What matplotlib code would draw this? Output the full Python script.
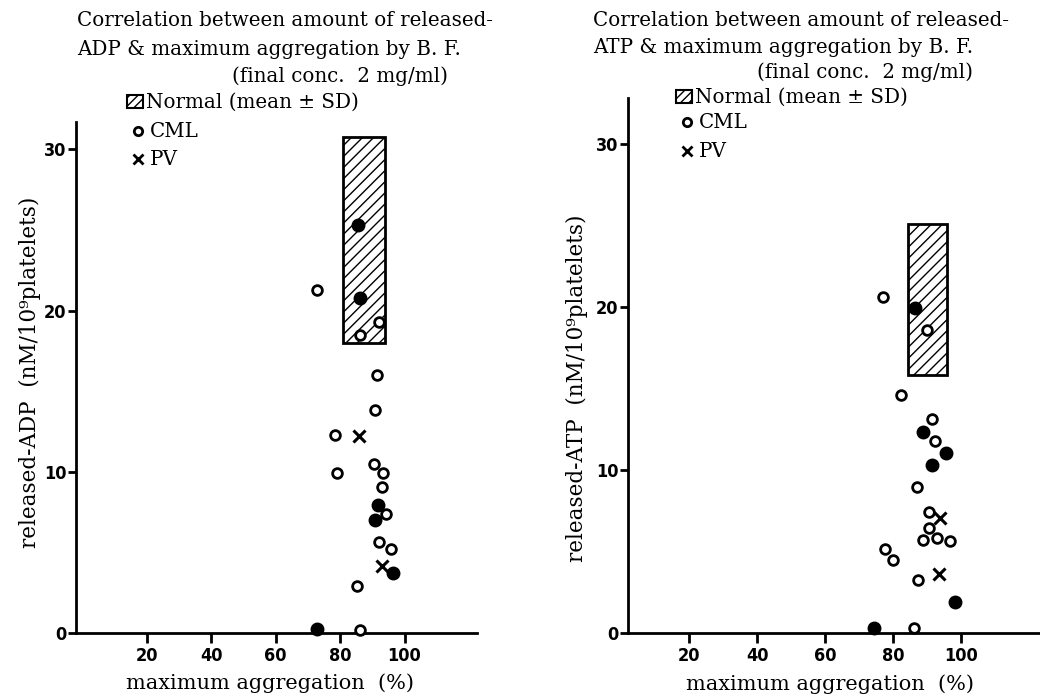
import matplotlib
matplotlib.use("Agg")
import matplotlib.pyplot as plt
from matplotlib.patches import Rectangle

# -----------------------------
# Data
# -----------------------------
# left panel: released-ADP vs maximum aggregation
adp_cml_x = [72.8, 92.1, 86.2, 91.6, 90.8, 78.5, 90.6, 79.1, 93.4, 93.1, 94.3, 92.1, 95.7, 85.1, 86.2]
adp_cml_y = [21.3, 19.3, 18.5, 16.0, 13.85, 12.3, 10.5, 9.95, 9.95, 9.05, 7.37, 5.67, 5.2, 2.92, 0.19]
adp_fill_x = [85.5, 86.2, 91.9, 90.9, 96.5, 72.7]
adp_fill_y = [25.3, 20.8, 7.95, 6.98, 3.7, 0.25]
adp_pv_x = [85.9, 92.9]
adp_pv_y = [12.2, 4.18]
adp_normal = (87.45, 6.55, 24.4, 6.4)   # x mean, x SD, y mean, y SD

# right panel: released-ATP vs maximum aggregation
atp_cml_x = [77.0, 90.0, 82.3, 91.4, 92.4, 87.2, 90.7, 90.5, 88.8, 92.9, 96.8, 77.8, 80.1, 87.4, 86.3]
atp_cml_y = [20.6, 18.6, 14.6, 13.1, 11.8, 8.98, 7.44, 6.46, 5.69, 5.81, 5.64, 5.15, 4.48, 3.25, 0.33]
atp_fill_x = [86.5, 89.0, 95.6, 91.4, 98.4, 74.3]
atp_fill_y = [19.9, 12.3, 11.06, 10.3, 1.9, 0.33]
atp_pv_x = [93.9, 93.5]
atp_pv_y = [7.04, 3.62]
atp_normal = (90.15, 5.75, 20.45, 4.65)

x_ticks = [20, 40, 60, 80, 100]
y_ticks = [0, 10, 20, 30]

W, H = 1040, 698
fig = plt.figure(figsize=(W / 100, H / 100), dpi=100)

serif = ["DejaVu Serif"]
tickfont = dict(family="DejaVu Sans", weight="bold", stretch="condensed", size=13)


def fx(x):
    return x / W


def fy(y):
    return 1 - y / H


def panel(rect, xlim, ylim, cml, fill, pv, normal):
    ax = fig.add_axes(rect)
    ax.set_xlim(*xlim)
    ax.set_ylim(*ylim)
    for s in ["top", "right"]:
        ax.spines[s].set_visible(False)
    for s in ["left", "bottom"]:
        ax.spines[s].set_linewidth(2)
    ax.set_xticks(x_ticks)
    ax.set_yticks(y_ticks)
    ax.set_xticklabels([str(t) for t in x_ticks], fontdict=tickfont)
    ax.set_yticklabels([str(t) for t in y_ticks], fontdict=tickfont)
    ax.tick_params(axis="x", length=7, width=2, pad=3)
    ax.tick_params(axis="y", length=6, width=2, pad=1)

    xm, xs, ym, ys = normal
    ax.add_patch(Rectangle((xm - xs, ym - ys), 2 * xs, 2 * ys, facecolor="white",
                           edgecolor="black", hatch="///", linewidth=2, zorder=2))
    ax.plot(cml[0], cml[1], "o", ms=7, mfc="white", mec="black", mew=2,
            ls="none", zorder=3, clip_on=False)
    ax.plot(fill[0], fill[1], "o", ms=9, mfc="black", mec="black",
            ls="none", zorder=3, clip_on=False)
    ax.plot(pv[0], pv[1], "x", ms=9, mec="black", mew=2.2,
            ls="none", zorder=3, clip_on=False)
    return ax


# left panel
axL = panel([fx(76), fy(633), fx(477) - fx(76), fy(122) - fy(633)],
            (-2, 122.5), (0, 31.7),
            (adp_cml_x, adp_cml_y), (adp_fill_x, adp_fill_y), (adp_pv_x, adp_pv_y),
            adp_normal)
# right panel
axR = panel([fx(628), fy(633), fx(1040) - fx(628), fy(98) - fy(633)],
            (2, 123.3), (0, 32.8),
            (atp_cml_x, atp_cml_y), (atp_fill_x, atp_fill_y), (atp_pv_x, atp_pv_y),
            atp_normal)


# titles and hand-made legends
def header(x0, base, xline3, name, leg_x, leg_base):
    fig.text(fx(x0), fy(base[0]), "Correlation between amount of released-",
             family=serif, size=14.3, va="baseline")
    fig.text(fx(x0), fy(base[1]), name + " & maximum aggregation by B. F.",
             family=serif, size=14.3, va="baseline")
    fig.text(fx(xline3), fy(base[2]), "(final conc.  2 mg/ml)",
             family=serif, size=14.3, va="baseline")
    # hatched legend box
    fig.patches.append(Rectangle((fx(leg_x - 11), fy(leg_base[0])), fx(16), fy(0) - fy(13),
                                 transform=fig.transFigure, facecolor="white",
                                 edgecolor="black", hatch="////", linewidth=1.5))
    fig.text(fx(leg_x + 8), fy(leg_base[0]), "Normal (mean ± SD)",
             family=serif, size=14.3, va="baseline")
    fig.lines.append(plt.Line2D([fx(leg_x)], [fy(leg_base[1] - 6)], transform=fig.transFigure,
                                marker="o", ms=6, mfc="white", mec="black", mew=2))
    fig.text(fx(leg_x + 12), fy(leg_base[1]), "CML", family=serif, size=14.3, va="baseline")
    fig.lines.append(plt.Line2D([fx(leg_x)], [fy(leg_base[2] - 6)], transform=fig.transFigure,
                                marker="x", ms=7, mec="black", mew=2))
    fig.text(fx(leg_x + 12), fy(leg_base[2]), "PV", family=serif, size=14.3, va="baseline")


header(77, (26, 55, 82), 232, "ADP", 138, (108, 137, 165))
header(593, (26, 53, 78), 757, "ATP", 687, (103, 128, 157))

# axis labels
fig.text(fx(30), fy(372), "released-ADP  (nM/10⁹platelets)", family=serif, size=15.5,
         rotation=90, ha="center", va="center")
fig.text(fx(577), fy(388), "released-ATP  (nM/10⁹platelets)", family=serif, size=15.5,
         rotation=90, ha="center", va="center")
fig.text(fx(270), fy(683), "maximum aggregation  (%)", family=serif, size=15,
         ha="center", va="center")
fig.text(fx(830), fy(684), "maximum aggregation  (%)", family=serif, size=15,
         ha="center", va="center")

fig.savefig("out.png", dpi=100)
